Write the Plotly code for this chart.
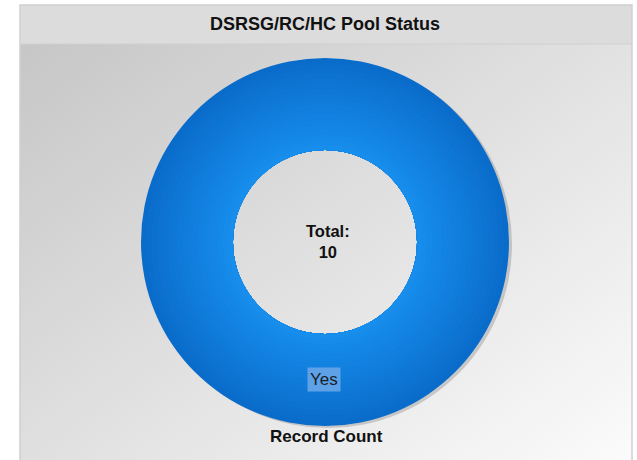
import plotly.graph_objects as go
import base64

W, H = 637, 460

title = "DSRSG/RC/HC Pool Status"
labels = ["Yes"]
values = [10]
series_name = "Record Count"
inner_color = (0x17, 0x8e, 0xed)
outer_color = (0x0a, 0x6b, 0xc9)

total = sum(values)

def px(x):
    return x / W

def py(y):
    return 1 - y / H

svg = '''<svg xmlns="http://www.w3.org/2000/svg" width="612" height="460">
<defs><linearGradient id="g" x1="0" y1="0" x2="1" y2="1">
<stop offset="0" stop-color="#c4c4c4"/><stop offset="1" stop-color="#fbfbfb"/></linearGradient></defs>
<rect width="612" height="460" fill="url(#g)"/></svg>'''
bg_uri = "data:image/svg+xml;base64," + base64.b64encode(svg.encode()).decode()

cx, cy, r, r_in = 325, 242, 184, 92

fig = go.Figure()
# soft shadow (outside edge only)
sh = 3
fig.add_trace(go.Pie(
    labels=labels, values=values, hole=(r_in + 6) / r, sort=False,
    domain=dict(x=[px(cx - r + sh), px(cx + r + sh)], y=[py(cy + r + 2), py(cy - r + 2)]),
    marker=dict(colors=["rgba(110,110,110,0.3)"], line=dict(width=0)),
    textinfo="none", hoverinfo="skip", showlegend=False,
))

# radial shading: stacked donuts of the same slice, outer first
N = 18
for i in range(N):
    ro = r - (r - r_in) * i / N
    t = (i + 0.5) / N  # 0 outer -> 1 inner
    col = tuple(round(outer_color[k] + (inner_color[k] - outer_color[k]) * t) for k in range(3))
    fig.add_trace(go.Pie(
        labels=labels, values=values, hole=r_in / ro, sort=False, name=series_name,
        domain=dict(x=[px(cx - ro), px(cx + ro)], y=[py(cy + ro), py(cy - ro)]),
        marker=dict(colors=["rgb(%d,%d,%d)" % col], line=dict(width=0)),
        textinfo="none", showlegend=False,
        hovertemplate="%{label}: %{value}<extra>" + series_name + "</extra>",
    ))

fig.add_layout_image(dict(source=bg_uri, xref="paper", yref="paper",
                          x=px(20), y=py(5), sizex=px(632) - px(20), sizey=py(5) - py(460),
                          xanchor="left", yanchor="top", sizing="stretch", layer="below"))

shapes = [
    dict(type="rect", xref="paper", yref="paper", x0=px(20), x1=px(632), y0=py(5), y1=py(44),
         fillcolor="#dcdcdc", line=dict(width=0), layer="below"),
    dict(type="line", xref="paper", yref="paper", x0=px(20), x1=px(632), y0=py(44), y1=py(44),
         line=dict(color="#d0d0d0", width=1)),
    dict(type="rect", xref="paper", yref="paper", x0=px(20), x1=px(632), y0=py(5), y1=py(462),
         fillcolor="rgba(0,0,0,0)", line=dict(color="#cfcfcf", width=1.5)),
]

font = "Liberation Sans, Arial, sans-serif"
common = dict(xref="paper", yref="paper", showarrow=False, xanchor="center", yanchor="middle")
annotations = [
    dict(text=f"<b>{title}</b>", x=px(325), y=py(24),
         font=dict(family=font, size=18, color="#111111"), **common),
    dict(text=f"<b>Total:<br>{total}</b>", x=px(328), y=py(241),
         font=dict(family=font, size=16.5, color="#111111"), **common),
    dict(text=f"<b>{series_name}</b>", x=px(326), y=py(436),
         font=dict(family=font, size=17, color="#111111"), **common),
    dict(text=labels[0], x=px(324), y=py(379), bgcolor="#5ea1e6", borderpad=2,
         font=dict(family=font, size=17, color="#16202c"), **common),
]

fig.update_layout(width=W, height=H, margin=dict(l=0, r=0, t=0, b=0),
                  paper_bgcolor="white", plot_bgcolor="white",
                  shapes=shapes, annotations=annotations, showlegend=False)
fig.write_html("out.html", config={"displayModeBar": False},
               post_script="document.body.style.margin='0';")
